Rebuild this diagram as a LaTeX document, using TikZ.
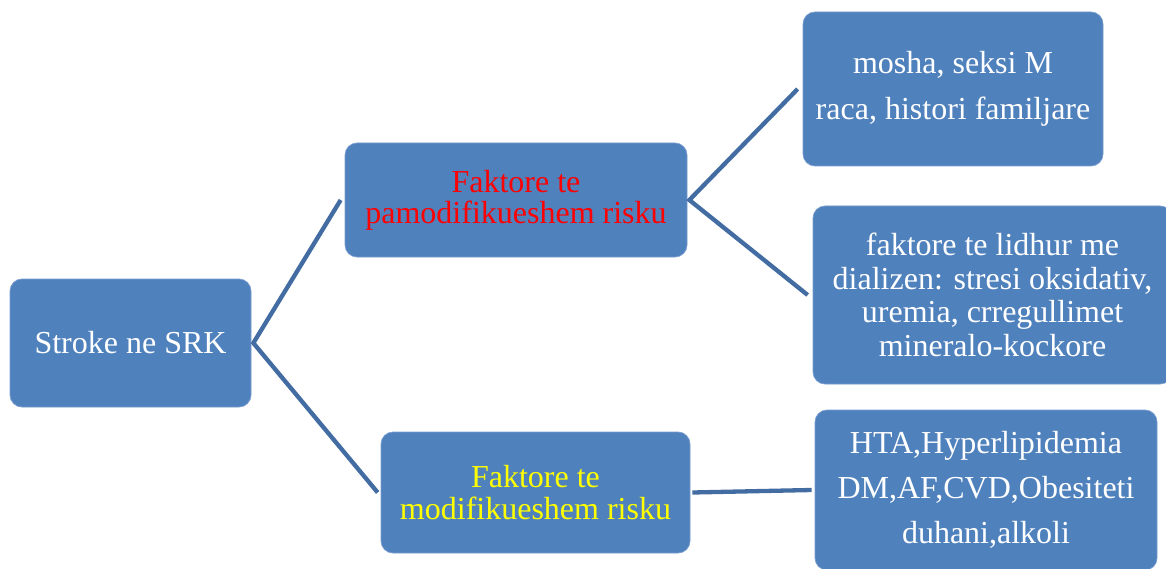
\documentclass[tikz,border=0pt]{standalone}
\usepackage{fontspec}
\setmainfont{Liberation Serif}
\definecolor{boxfill}{RGB}{79,129,189}
\definecolor{boxedge}{RGB}{120,156,206}
\definecolor{linecol}{RGB}{66,108,162}
\definecolor{txtred}{RGB}{255,0,0}
\definecolor{txtyellow}{RGB}{255,255,0}
\tikzset{
  boxnode/.style={rectangle, rounded corners=12pt, fill=boxfill, draw=boxedge, line width=0.7pt,
    inner sep=0pt, align=center, text=white},
  conn/.style={draw=linecol, line width=4.3pt},
}
\begin{document}
\begin{tikzpicture}[x=1pt,y=-1pt]
\fill[white] (0,0) rectangle (1166,569);
\useasboundingbox (0,0) rectangle (1166,569);

\node[boxnode, minimum width=241pt, minimum height=128pt,
  font=\fontsize{32}{32}\selectfont] (stroke) at (130.5,343) {Stroke ne SRK};

\node[boxnode, minimum width=342pt, minimum height=114pt, text=txtred,
  font=\fontsize{32}{31}\selectfont] (pamod) at (516,200) {Faktore te\\pamodifikueshem risku};

\node[boxnode, minimum width=309pt, minimum height=121pt, text=txtyellow,
  font=\fontsize{32}{32}\selectfont] (modif) at (535.5,492.5) {Faktore te\\modifikueshem risku};

\node[boxnode, minimum width=300pt, minimum height=154pt,
  font=\fontsize{32}{46}\selectfont] (mosha) at (953,89) {mosha, seksi M\\raca, histori familjare};

\node[boxnode, minimum width=359pt, minimum height=178pt,
  font=\fontsize{32}{33.7}\selectfont] (lidhur) at (992.5,295) {faktore te lidhur me\\dializen: stresi oksidativ,\\uremia, crregullimet\\mineralo-kockore};

\node[boxnode, minimum width=342pt, minimum height=160pt,
  font=\fontsize{32}{45}\selectfont] (hta) at (986,490) {HTA,Hyperlipidemia\\DM,AF,CVD,Obesiteti\\duhani,alkoli};

\draw[conn] ([xshift=-4pt]pamod.west) -- ([xshift=2pt]stroke.east) -- ([xshift=-3pt]modif.west);
\draw[conn] ([xshift=-5pt]mosha.west) -- ([xshift=2pt]pamod.east) -- ([xshift=-5pt]lidhur.west);
\draw[conn] ([xshift=2pt]modif.east) -- ([xshift=-3pt]hta.west);
\end{tikzpicture}
\end{document}
